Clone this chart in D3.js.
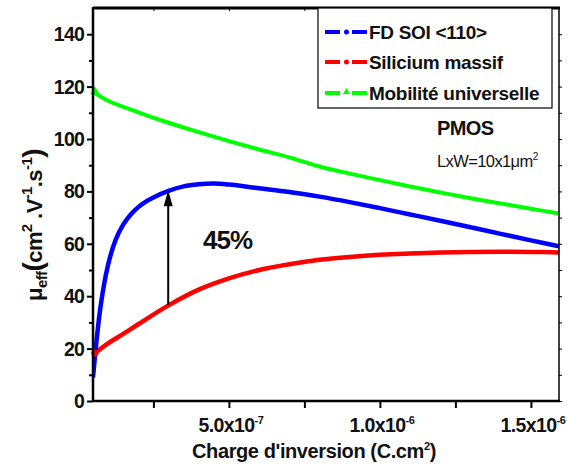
<!DOCTYPE html>
<html>
<head>
<meta charset="utf-8">
<script src="https://cdn.jsdelivr.net/npm/d3@7"></script>
<style>
  html, body { margin: 0; padding: 0; background: #fff; }
  svg { display: block; font-family: "Liberation Sans", Arial, sans-serif; }
</style>
</head>
<body>
<svg id="chart" width="569" height="473"></svg>
<script>
// ---- data (charge in C.cm^-2, mobility in cm2/V/s) ----
const blueX = [0.05e-6, 0.075e-6, 0.1e-6, 0.125e-6, 0.15e-6, 0.175e-6, 0.2e-6, 0.225e-6, 0.25e-6, 0.3e-6, 0.35e-6, 0.4e-6, 0.45e-6, 0.5e-6, 0.6e-6, 0.7e-6, 0.8e-6, 0.9e-6, 1.0e-6, 1.1e-6, 1.2e-6, 1.3e-6, 1.4e-6, 1.5e-6, 1.593e-6];
const blueY = [9, 36, 52, 61.5, 67.3, 71.2, 74, 76.1, 77.7, 80.2, 81.9, 82.7, 83, 82.6, 81.2, 79.8, 78, 75.9, 73.6, 71.2, 68.8, 66.3, 63.8, 61.3, 59];

const redX = [0.056e-6, 0.1e-6, 0.15e-6, 0.2e-6, 0.3e-6, 0.4e-6, 0.5e-6, 0.6e-6, 0.7e-6, 0.8e-6, 0.9e-6, 1.0e-6, 1.1e-6, 1.2e-6, 1.3e-6, 1.4e-6, 1.5e-6, 1.593e-6];
const redY = [18.2, 22, 25.6, 29.3, 36.5, 42.5, 46.8, 50, 52.2, 53.9, 55, 55.8, 56.3, 56.7, 56.9, 57, 56.9, 56.7];

const greenX = [0.05e-6, 0.1e-6, 0.2e-6, 0.3e-6, 0.4e-6, 0.5e-6, 0.6e-6, 0.7e-6, 0.8e-6, 0.9e-6, 1.0e-6, 1.1e-6, 1.2e-6, 1.3e-6, 1.4e-6, 1.5e-6, 1.593e-6];
const greenY = [118, 114.6, 110.2, 106.2, 102.6, 99.2, 96, 93, 89.5, 86.8, 84.3, 81.9, 79.6, 77.4, 75.4, 73.4, 71.6];

const seriesNames = ["FD SOI <110>", "Silicium massif", "Mobilité universelle"];
const seriesColors = ["#0000ff", "#ff0000", "#00ff00"];

const yMajorTicks = [0, 20, 40, 60, 80, 100, 120, 140];
const yMinorTicks = [10, 30, 50, 70, 90, 110, 130];
const xMajorTicks = [5e-7, 1e-6, 1.5e-6];
const xTickMantissa = ["5.0x10", "1.0x10", "1.5x10"];
const xTickExponent = ["-7", "-6", "-6"];
const xMinorTicks = [2.5e-7, 7.5e-7, 1.25e-6];

const arrowX = 0.299e-6, arrowFrom = 36.8, arrowTo = 80.4;

// ---- layout ----
const svg = d3.select("#chart");
const L = 93, R = 559, T = 8, B = 401;
const x = d3.scaleLinear().domain([0.05e-6, 1.593e-6]).range([L, R]);
const y = d3.scaleLinear().domain([0, 150]).range([B, T]);
const FONT = "'Liberation Sans', Arial, sans-serif";

// curves
const line = d3.line().x(d => x(d[0])).y(d => y(d[1])).curve(d3.curveCatmullRom.alpha(0.5));
svg.append("clipPath").attr("id", "clip").append("rect")
  .attr("x", L).attr("y", T).attr("width", R - L).attr("height", B - T);
const plot = svg.append("g").attr("clip-path", "url(#clip)");

const greenData = d3.zip(greenX, greenY);
const blueData = d3.zip(blueX, blueY);
const redData = d3.zip(redX, redY);

plot.append("path").datum(greenData).attr("d", line)
  .attr("fill", "none").attr("stroke", seriesColors[2]).attr("stroke-width", 4);
plot.append("path").datum(redData).attr("d", line)
  .attr("fill", "none").attr("stroke", seriesColors[1]).attr("stroke-width", 4.5);
plot.append("path").datum(blueData).attr("d", line)
  .attr("fill", "none").attr("stroke", seriesColors[0]).attr("stroke-width", 4.5);

// start markers
svg.append("path").attr("d", d3.symbol(d3.symbolTriangle, 40)())
  .attr("transform", `translate(${x(greenX[0]) + 2},${y(greenY[0])})`).attr("fill", seriesColors[2]);
svg.append("circle").attr("cx", x(redX[0])).attr("cy", y(redY[0])).attr("r", 3.5).attr("fill", seriesColors[1]);

// axes
const gx = svg.append("g").attr("transform", `translate(0,${B})`)
  .call(d3.axisBottom(x).tickValues(xMajorTicks.concat(xMinorTicks)).tickSize(7).tickFormat(""));
const gy = svg.append("g").attr("transform", `translate(${L},0)`)
  .call(d3.axisLeft(y).tickValues(yMajorTicks).tickSize(6).tickFormat(""));
const gy2 = svg.append("g").attr("transform", `translate(${L},0)`)
  .call(d3.axisLeft(y).tickValues(yMinorTicks).tickSize(4).tickFormat(""));
const gt = svg.append("g").attr("transform", `translate(0,${T})`)
  .call(d3.axisBottom(x).tickValues(xMajorTicks.concat(xMinorTicks)).tickSize(3).tickFormat(""));
const gr = svg.append("g").attr("transform", `translate(${R},0)`)
  .call(d3.axisRight(y).tickValues(yMajorTicks.concat(yMinorTicks)).tickSize(3).tickFormat(""));
[gx, gy, gy2].forEach(g => {
  g.select(".domain").remove();
  g.selectAll(".tick line").attr("stroke", "#000").attr("stroke-width", 2);
});
[gt, gr].forEach(g => {
  g.select(".domain").remove();
  g.selectAll(".tick line").attr("stroke", "#000").attr("stroke-width", 1);
});
// frame
svg.append("line").attr("x1", L).attr("x2", R + 1).attr("y1", T).attr("y2", T).attr("stroke", "#000").attr("stroke-width", 3);
svg.append("line").attr("x1", R).attr("x2", R).attr("y1", T).attr("y2", B).attr("stroke", "#000").attr("stroke-width", 1.5);
svg.append("line").attr("x1", L).attr("x2", R + 1).attr("y1", B).attr("y2", B).attr("stroke", "#000").attr("stroke-width", 2.5);
svg.append("line").attr("x1", L).attr("x2", L).attr("y1", T - 1).attr("y2", B + 1).attr("stroke", "#000").attr("stroke-width", 2.5);

// y tick labels
svg.append("g").selectAll("text").data(yMajorTicks).join("text")
  .attr("x", L - 9).attr("y", d => y(d) + 7)
  .attr("text-anchor", "end").attr("font-family", FONT).attr("font-weight", "bold")
  .attr("font-size", 19.5).attr("letter-spacing", -0.8).attr("fill", "#111")
  .text(d => d);

// x tick labels
const xl = svg.append("g").selectAll("text").data(xMajorTicks).join("text")
  .attr("x", d => x(d) + 2).attr("y", 432)
  .attr("text-anchor", "middle").attr("font-family", FONT).attr("font-weight", "bold")
  .attr("font-size", 19.5).attr("letter-spacing", -0.6).attr("fill", "#111");
xl.append("tspan").text((d, i) => xTickMantissa[i]);
xl.append("tspan").attr("dy", -8).attr("font-size", 11).attr("letter-spacing", -0.5).text((d, i) => xTickExponent[i]);

// x title
const xt = svg.append("text").attr("x", 314).attr("y", 458).attr("text-anchor", "middle")
  .attr("font-family", FONT).attr("font-weight", "bold").attr("font-size", 20)
  .attr("letter-spacing", -0.4).attr("fill", "#111");
xt.append("tspan").text("Charge d'inversion (C.cm");
xt.append("tspan").attr("dy", -8).attr("font-size", 11).text("2");
xt.append("tspan").attr("dy", 8).text(")");

// y title
const yt = svg.append("text").attr("transform", "translate(42,225) rotate(-90)")
  .attr("text-anchor", "middle").attr("font-family", FONT).attr("font-weight", "bold")
  .attr("font-size", 22).attr("letter-spacing", -0.6).attr("fill", "#111");
yt.append("tspan").text("μ");
yt.append("tspan").attr("dy", 5).attr("font-size", 15).text("eff");
yt.append("tspan").attr("dy", -5).attr("font-size", 28).text("(");
yt.append("tspan").text("cm");
yt.append("tspan").attr("dy", -10).attr("font-size", 15).text("2");
yt.append("tspan").attr("dy", 10).text(" .V");
yt.append("tspan").attr("dy", -10).attr("font-size", 15).text("-1");
yt.append("tspan").attr("dy", 10).text(".s");
yt.append("tspan").attr("dy", -10).attr("font-size", 15).text("-1");
yt.append("tspan").attr("dy", 10).attr("font-size", 28).text(")");

// legend
const lg = svg.append("g");
lg.append("rect").attr("x", 318).attr("y", T).attr("width", 234).attr("height", 100)
  .attr("fill", "#fff").attr("stroke", "#000").attr("stroke-width", 1.2);
const rowsY = [32, 62, 93];
seriesNames.forEach((name, i) => {
  const ry = rowsY[i];
  lg.append("line").attr("x1", 325).attr("x2", 340).attr("y1", ry).attr("y2", ry)
    .attr("stroke", seriesColors[i]).attr("stroke-width", 4);
  lg.append("line").attr("x1", 352).attr("x2", 367).attr("y1", ry).attr("y2", ry)
    .attr("stroke", seriesColors[i]).attr("stroke-width", 4);
  if (i === 2) {
    lg.append("path").attr("d", d3.symbol(d3.symbolTriangle, 22)())
      .attr("transform", `translate(346.5,${ry - 1})`).attr("fill", seriesColors[i]);
  } else {
    lg.append("circle").attr("cx", 346.5).attr("cy", ry).attr("r", 2.5).attr("fill", seriesColors[i]);
  }
  lg.append("text").attr("x", 369).attr("y", ry + 7)
    .attr("font-family", FONT).attr("font-weight", "bold").attr("font-size", 19)
    .attr("letter-spacing", -0.3).attr("fill", "#111").text(name);
});

// arrow annotation
const ax = x(arrowX);
svg.append("line").attr("x1", ax).attr("x2", ax).attr("y1", y(arrowFrom)).attr("y2", y(arrowTo) + 14)
  .attr("stroke", "#000").attr("stroke-width", 2);
svg.append("path").attr("d", `M${ax},${y(arrowTo)} L${ax - 4.5},${y(arrowTo) + 16} L${ax + 4.5},${y(arrowTo) + 16} Z`)
  .attr("fill", "#000");

svg.append("text").attr("x", 203).attr("y", 249).attr("font-family", FONT).attr("font-weight", "bold")
  .attr("font-size", 26).attr("letter-spacing", -1).attr("fill", "#111").text("45%");
svg.append("text").attr("x", 437).attr("y", 135).attr("font-family", FONT).attr("font-weight", "bold")
  .attr("font-size", 20).attr("letter-spacing", -0.6).attr("fill", "#111").text("PMOS");
const lw = svg.append("text").attr("x", 437).attr("y", 167).attr("font-family", FONT)
  .attr("font-size", 16.5).attr("letter-spacing", -0.6).attr("fill", "#111");
lw.append("tspan").text("LxW=10x1μm");
lw.append("tspan").attr("dy", -7).attr("font-size", 10).text("2");
</script>
</body>
</html>
